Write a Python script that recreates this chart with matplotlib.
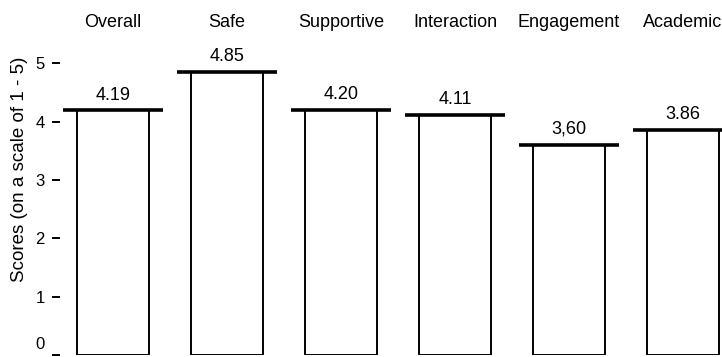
import matplotlib
matplotlib.use("Agg")
import matplotlib.pyplot as plt
import matplotlib.transforms as mtransforms

# ---- data ----
categories = ["Overall", "Safe", "Supportive", "Interaction", "Engagement", "Academic"]
scores = [4.19, 4.85, 4.20, 4.11, 3.60, 3.86]
score_labels = ["4.19", "4.85", "4.20", "4.11", "3,60", "3.86"]
y_ticks = [0, 1, 2, 3, 4, 5]

plt.rcParams["font.family"] = ["Liberation Sans", "DejaVu Sans"]

fig = plt.figure(figsize=(7.22, 3.57), dpi=100)
W, H = 722, 357
# axes in pixel terms: left at 60px, y=0 at 355px, y=5.5 at ~34px
ax = fig.add_axes([60 / W, 2 / H, 662 / W, 321 / H])

x = list(range(len(categories)))
bar_w = 0.63
cap_w = 0.88

ax.bar(x, scores, width=bar_w, color="white", edgecolor="black", linewidth=1.4, zorder=2)
ax.hlines(scores, [i - cap_w / 2 for i in x], [i + cap_w / 2 for i in x],
          color="black", linewidth=2.6, zorder=3)

for i, (v, s) in enumerate(zip(scores, score_labels)):
    ax.annotate(s, (i, v), xytext=(0, 5), textcoords="offset points",
                ha="center", va="bottom", fontsize=13)

ax.set_xlim(-0.465, 5.342)
ax.set_ylim(0, 5.5)

ax.set_yticks(y_ticks)
ax.tick_params(axis="y", direction="out", length=6, width=1.4, pad=5, labelsize=12)
ax.set_ylabel("Scores (on a scale of 1 - 5)", fontsize=13.5)
ax.yaxis.set_label_coords(-0.048, 0.58)

# category names across the top
ax.xaxis.tick_top()
ax.set_xticks(x)
ax.set_xticklabels(categories, fontsize=13)
ax.tick_params(axis="x", length=0, pad=0)
for lbl in ax.get_xticklabels():
    lbl.set_transform(lbl.get_transform() + mtransforms.ScaledTranslation(0, 0.03, fig.dpi_scale_trans))

# the zero label sits a bit higher in the original
zero_lbl = ax.yaxis.get_major_ticks()[0].label1
zero_lbl.set_transform(zero_lbl.get_transform() + mtransforms.ScaledTranslation(0, 0.12, fig.dpi_scale_trans))

for sp in ax.spines.values():
    sp.set_visible(False)

fig.savefig("out.png", dpi=100)
plt.close(fig)
